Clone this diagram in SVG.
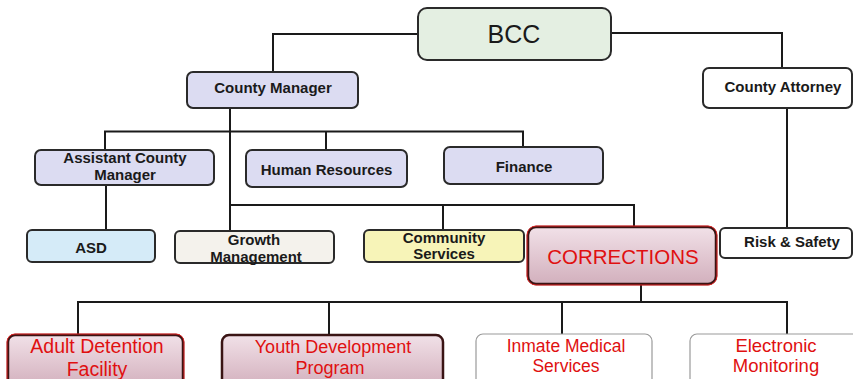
<svg xmlns="http://www.w3.org/2000/svg" width="853" height="379" viewBox="0 0 853 379">
<defs>
<linearGradient id="pink" x1="0" y1="0" x2="0" y2="1">
<stop offset="0" stop-color="#f1e1e8"/>
<stop offset="0.5" stop-color="#e2c8d2"/>
<stop offset="1" stop-color="#d2b0bd"/>
</linearGradient>
<style>
.ln{fill:none;stroke:#1a1a1a;stroke-width:2}
.bx{stroke:#2a2a2a;stroke-width:2}
.lav{fill:#dcdcf2}
.b{font-family:"Liberation Sans",Arial,sans-serif;font-weight:bold;font-size:15px;fill:#1a1a1a;text-anchor:middle}
.r{font-family:"Liberation Sans",Arial,sans-serif;fill:#e01010;text-anchor:middle}
.pk{fill:url(#pink);stroke:#3a1414;stroke-width:2.5}
.rd{fill:none;stroke:#e02020;stroke-width:1}
.lt{fill:#ffffff;stroke:#9a9a9a;stroke-width:1.2}
</style>
</defs>
<rect width="853" height="379" fill="#ffffff"/>
<g id="connectors">
<polyline class="ln" points="418,34 273,34 273,72"/>
<polyline class="ln" points="611,33 782,33 782,68"/>
<line class="ln" x1="787" y1="108" x2="787" y2="228"/>
<line class="ln" x1="230" y1="108" x2="230" y2="231"/>
<polyline class="ln" points="105,150 105,131.5 523,131.5 523,147"/>
<line class="ln" x1="326" y1="131.5" x2="326" y2="150"/>
<polyline class="ln" points="230,205 634,205 634,227"/>
<line class="ln" x1="443" y1="205" x2="443" y2="230"/>
<line class="ln" x1="106" y1="185" x2="106" y2="230"/>
<line class="ln" x1="641" y1="284" x2="641" y2="302"/>
<polyline class="ln" points="78,335 78,302 787,302 787,334"/>
<line class="ln" x1="329" y1="302" x2="329" y2="335"/>
<line class="ln" x1="562" y1="302" x2="562" y2="334"/>
</g>
<g id="bcc">
<rect class="bx" x="418" y="8" width="193" height="52" rx="9" fill="#e4efe2"/>
<text x="514" y="43" font-family="Liberation Sans,Arial,sans-serif" font-size="25" fill="#1a1a1a" text-anchor="middle">BCC</text>
</g>
<g id="county-manager">
<rect class="bx lav" x="187" y="72" width="171" height="36" rx="6"/>
<text class="b" x="273" y="93">County Manager</text>
</g>
<g id="county-attorney">
<rect class="bx" x="703" y="68" width="149" height="40" rx="6" fill="#ffffff"/>
<text class="b" x="783" y="92">County Attorney</text>
</g>
<g id="assistant-county-manager">
<rect class="bx lav" x="35" y="150" width="179" height="35" rx="6"/>
<text class="b" x="125" y="163" font-size="14.5">Assistant County</text>
<text class="b" x="125" y="180" font-size="14.5">Manager</text>
</g>
<g id="human-resources">
<rect class="bx lav" x="246" y="150" width="161" height="37" rx="6"/>
<text class="b" x="326.5" y="175">Human Resources</text>
</g>
<g id="finance">
<rect class="bx lav" x="444" y="147" width="159" height="37" rx="6"/>
<text class="b" x="524" y="172">Finance</text>
</g>
<g id="asd">
<rect class="bx" x="27" y="230" width="128" height="32" rx="5" fill="#d5ebf8"/>
<text class="b" x="91" y="253">ASD</text>
</g>
<g id="growth-management">
<rect class="bx" x="175" y="231" width="159" height="32" rx="5" fill="#f4f2ec"/>
<text class="b" x="254" y="245">Growth</text>
<text class="b" x="256" y="262">Management</text>
</g>
<g id="community-services">
<rect class="bx" x="364" y="230" width="160" height="32" rx="5" fill="#f7f4b8"/>
<text class="b" x="444" y="243">Community</text>
<text class="b" x="444" y="259">Services</text>
</g>
<g id="corrections">
<rect class="pk" x="528" y="227" width="188" height="57" rx="8"/>
<rect class="rd" x="527" y="226" width="190" height="59" rx="9"/>
<text class="r" x="623" y="264" font-size="20.5">CORRECTIONS</text>
</g>
<g id="risk-safety">
<rect class="bx" x="720" y="228" width="132" height="30" rx="5" fill="#ffffff"/>
<text class="b" x="792" y="247">Risk &amp; Safety</text>
</g>
<g id="adult-detention">
<rect class="pk" x="8" y="335" width="175" height="52" rx="7"/>
<rect class="rd" x="7" y="334" width="177" height="54" rx="8"/>
<text class="r" x="97" y="353" font-size="19.5">Adult Detention</text>
<text class="r" x="97" y="376" font-size="19.5">Facility</text>
</g>
<g id="youth-development">
<rect class="pk" x="222" y="335" width="221" height="52" rx="7"/>
<text class="r" x="333" y="353" font-size="18">Youth Development</text>
<text class="r" x="330" y="374" font-size="18">Program</text>
</g>
<g id="inmate-medical">
<rect class="lt" x="476" y="334" width="176" height="52" rx="7"/>
<text class="r" x="566" y="352" font-size="17.5">Inmate Medical</text>
<text class="r" x="566" y="372" font-size="17.5">Services</text>
</g>
<g id="electronic-monitoring">
<rect class="lt" x="690" y="334" width="175" height="52" rx="7" stroke="#c8c8c8"/>
<text class="r" x="776" y="352" font-size="18.5">Electronic</text>
<text class="r" x="776" y="372" font-size="18.5">Monitoring</text>
</g>
</svg>
